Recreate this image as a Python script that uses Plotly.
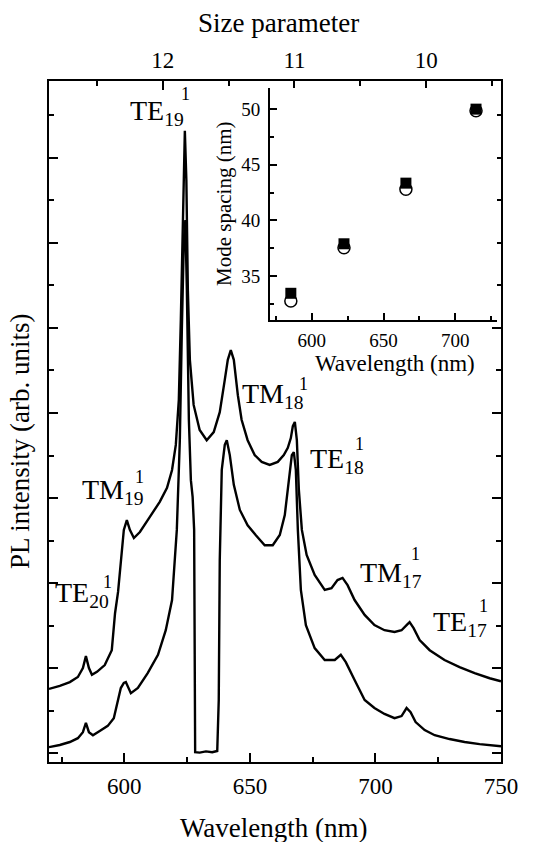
import plotly.graph_objects as go

# ---------------- data ----------------
upper_wl = [570.0, 574.3, 578.3, 581.5, 583.5, 584.7, 585.9, 587.1, 589.1, 592.2,
            595.0, 596.3, 597.5, 598.6, 599.8, 601.0, 602.2, 603.8, 606.2, 610.1,
            614.1, 617.0, 619.0, 620.5, 621.7, 622.5, 623.3, 624.1, 624.7, 625.3,
            626.1, 627.6, 630.0, 632.8, 635.6, 638.0, 640.0, 641.2, 642.4, 643.6,
            645.2, 646.7, 649.1, 651.9, 654.7, 657.9, 661.1, 663.5, 665.1, 666.3,
            667.1, 667.9, 668.7, 669.5, 670.7, 672.6, 675.8, 679.8, 682.5, 684.9,
            686.9, 688.9, 691.7, 695.7, 699.6, 703.6, 707.6, 710.4, 712.4, 713.6,
            715.2, 717.6, 721.6, 727.5, 733.5, 739.5, 745.5, 750.0]
upper_int = [1.51, 1.58, 1.67, 1.79, 2.00, 2.28, 2.00, 1.84, 1.91, 2.07,
             2.42, 3.29, 3.79, 4.54, 5.25, 5.48, 5.25, 5.06, 5.20, 5.55,
             5.91, 6.24, 6.66, 7.25, 8.31, 10.19, 12.54, 14.64, 13.48, 10.89,
             9.25, 8.19, 7.60, 7.36, 7.55, 8.02, 8.78, 9.25, 9.48, 9.25,
             8.42, 7.84, 7.36, 7.01, 6.85, 6.78, 6.85, 7.01, 7.18, 7.41,
             7.69, 7.79, 7.36, 6.19, 5.25, 4.66, 4.19, 3.84, 3.88, 4.07,
             4.12, 3.95, 3.60, 3.25, 3.01, 2.89, 2.85, 2.89, 3.01, 3.08,
             2.94, 2.66, 2.42, 2.19, 2.02, 1.88, 1.76, 1.69]

lower_wl = [570.0, 574.3, 578.3, 581.5, 583.5, 584.7, 585.9, 587.5, 590.2, 593.4,
            595.8, 597.5, 598.6, 599.8, 600.6, 602.6, 605.4, 609.3, 613.4, 616.5,
            619.0, 620.9, 622.1, 622.9, 623.7, 624.3, 624.9, 625.7, 626.5, 627.2,
            627.8, 628.2, 630.0, 632.5, 635.0, 637.0, 637.6, 638.0, 638.8, 640.0,
            640.8, 642.0, 643.6, 646.0, 649.1, 652.3, 655.9, 659.1, 661.9, 663.9,
            665.5, 666.7, 667.5, 668.3, 669.1, 670.3, 672.3, 675.8, 679.8, 683.8,
            686.2, 688.2, 691.7, 695.7, 699.6, 703.6, 707.6, 710.4, 712.4, 714.0,
            716.0, 719.6, 723.6, 729.5, 735.5, 741.5, 750.0]
lower_int = [0.14, 0.19, 0.26, 0.35, 0.49, 0.71, 0.49, 0.42, 0.52, 0.64,
             0.82, 1.25, 1.53, 1.65, 1.67, 1.41, 1.53, 1.88, 2.31, 2.89,
             3.60, 5.25, 7.36, 9.95, 12.07, 12.54, 10.89, 7.84, 6.42, 6.02,
             5.25, 0.02, 0.01, 0.04, 0.02, 0.05, 1.25, 4.54, 6.66, 7.25,
             7.36, 7.01, 6.31, 5.72, 5.36, 5.13, 4.89, 4.89, 5.13, 5.60,
             6.42, 7.01, 7.08, 6.66, 5.25, 3.84, 3.01, 2.47, 2.19, 2.19,
             2.31, 2.14, 1.72, 1.25, 1.06, 0.92, 0.82, 0.87, 1.06, 0.96,
             0.73, 0.54, 0.42, 0.33, 0.26, 0.21, 0.16]

# inset: mode spacing
inset_wl = [585.5, 622.5, 665.6, 714.4]
spacing_square = [33.45, 37.9, 43.35, 50.0]
spacing_circle = [32.75, 37.55, 42.8, 49.85]

# mode labels: base, subscript, superscript
label_base = ["TE", "TM", "TE", "TM", "TE", "TM", "TE"]
label_sub = ["19", "19", "20", "18", "18", "17", "17"]
label_sup = ["1", "1", "1", "1", "1", "1", "1"]
# left edge / vertical centre of the base text (data coords)
label_wl = [601.4, 582.3, 571.6, 645.9, 673.0, 692.9, 722.3]
label_int = [15.06, 6.16, 3.72, 8.40, 6.89, 4.21, 3.04]
# centre of the superscript (data coords)
sup_wl = [624.5, 606.2, 593.4, 671.2, 693.7, 715.9, 743.0]
sup_int = [15.50, 6.49, 4.02, 8.68, 7.27, 4.68, 3.46]

size_ticks = [12, 11, 10]

SERIF = "Liberation Serif, Times New Roman, serif"
BLACK = "black"

fig = go.Figure()

fig.add_trace(go.Scatter(x=upper_wl, y=upper_int, mode="lines",
                         line=dict(color=BLACK, width=2.4), showlegend=False,
                         hoverinfo="skip"))
fig.add_trace(go.Scatter(x=lower_wl, y=lower_int, mode="lines",
                         line=dict(color=BLACK, width=2.4), showlegend=False,
                         hoverinfo="skip"))
# dummy trace for the top (size parameter) axis
fig.add_trace(go.Scatter(x=[12.864, 9.432], y=[None, None], xaxis="x2", yaxis="y",
                         mode="lines", showlegend=False, hoverinfo="skip"))

# inset markers
fig.add_trace(go.Scatter(x=inset_wl, y=spacing_circle, mode="markers", xaxis="x3", yaxis="y3",
                         marker=dict(symbol="circle", size=12, color="white",
                                     line=dict(color=BLACK, width=1.5)),
                         showlegend=False, hoverinfo="skip"))
fig.add_trace(go.Scatter(x=inset_wl, y=spacing_square, mode="markers", xaxis="x3", yaxis="y3",
                         marker=dict(symbol="square", size=11, color=BLACK,
                                     line=dict(color=BLACK, width=0)),
                         showlegend=False, hoverinfo="skip"))

L, R, T, B = 49, 32, 81, 80
W, H = 533, 842
PW, PH = W - L - R, H - T - B

def px(xp):
    return (xp - L) / PW

def py(yp):
    return (H - B - yp) / PH

ax_common = dict(showline=True, linecolor=BLACK, linewidth=2, showgrid=False,
                 zeroline=False, ticks="inside", tickcolor=BLACK, tickwidth=2)

fig.update_layout(
    width=W, height=H,
    margin=dict(l=L, r=R, t=T, b=B),
    paper_bgcolor="white", plot_bgcolor="white",
    font=dict(family=SERIF, color=BLACK),
    xaxis=dict(**ax_common, range=[570, 750], tick0=0, dtick=50, ticklen=9,
               minor=dict(ticks="inside", dtick=25, tick0=0, ticklen=5,
                          tickcolor=BLACK, tickwidth=2),
               tickfont=dict(size=23, family=SERIF), mirror=False,
               ticklabelstandoff=2),
    yaxis=dict(**ax_common, range=[-0.21, 15.81], tick0=0, dtick=2, ticklen=9,
               minor=dict(ticks="inside", dtick=1, tick0=0, ticklen=5,
                          tickcolor=BLACK, tickwidth=2),
               showticklabels=False, mirror="ticks"),
    xaxis2=dict(**ax_common, overlaying="x", side="top", anchor="y",
                range=[12.864, 9.432], tickvals=size_ticks, ticklen=9,
                minor=dict(ticks="inside", dtick=0.5, tick0=0, ticklen=5,
                           tickcolor=BLACK, tickwidth=2),
                tickfont=dict(size=23, family=SERIF), ticklabelstandoff=2),
    xaxis3=dict(showline=True, linecolor=BLACK, linewidth=2, showgrid=False,
                zeroline=False, ticks="inside", tickcolor=BLACK, tickwidth=1.5,
                ticklen=7, domain=[px(270), px(497)], anchor="y3",
                range=[571, 729], tick0=0, dtick=50,
                minor=dict(ticks="inside", dtick=25, tick0=0, ticklen=4,
                           tickcolor=BLACK, tickwidth=1.5),
                tickfont=dict(size=19, family=SERIF), ticklabelstandoff=2),
    yaxis3=dict(showline=True, linecolor=BLACK, linewidth=2, showgrid=False,
                zeroline=False, ticks="inside", tickcolor=BLACK, tickwidth=1.5,
                ticklen=7, domain=[py(320), py(88)], anchor="x3",
                range=[31.05, 51.9], tick0=0, dtick=5,
                minor=dict(ticks="inside", dtick=2.5, tick0=0, ticklen=4,
                           tickcolor=BLACK, tickwidth=1.5),
                tickfont=dict(size=19, family=SERIF), ticklabelstandoff=4),
)

annots = []
# axis titles
annots.append(dict(text="Wavelength (nm)", xref="paper", yref="paper",
                   x=px(274), y=py(828), showarrow=False,
                   xanchor="center", yanchor="middle",
                   font=dict(size=27, family=SERIF, color=BLACK)))
annots.append(dict(text="PL intensity (arb. units)", xref="paper", yref="paper",
                   x=px(20), y=py(442), showarrow=False, textangle=-90,
                   xanchor="center", yanchor="middle",
                   font=dict(size=27, family=SERIF, color=BLACK)))
annots.append(dict(text="Size parameter", xref="paper", yref="paper",
                   x=px(278), y=py(23), showarrow=False,
                   xanchor="center", yanchor="middle",
                   font=dict(size=27, family=SERIF, color=BLACK)))
annots.append(dict(text="Wavelength (nm)", xref="paper", yref="paper",
                   x=px(395), y=py(363), showarrow=False,
                   xanchor="center", yanchor="middle",
                   font=dict(size=23, family=SERIF, color=BLACK)))
annots.append(dict(text="Mode spacing (nm)", xref="paper", yref="paper",
                   x=px(224), y=py(204), showarrow=False, textangle=-90,
                   xanchor="center", yanchor="middle",
                   font=dict(size=21, family=SERIF, color=BLACK)))

# mode labels
for base, sub, sup, wl, inten, swl, sint in zip(label_base, label_sub, label_sup,
                                                label_wl, label_int, sup_wl, sup_int):
    annots.append(dict(text=f"{base}<sub>{sub}</sub>", x=wl, y=inten,
                       xref="x", yref="y", showarrow=False,
                       xanchor="left", yanchor="middle",
                       font=dict(size=28, family=SERIF, color=BLACK)))
    annots.append(dict(text=sup, x=swl, y=sint,
                       xref="x", yref="y", showarrow=False,
                       xanchor="center", yanchor="middle",
                       font=dict(size=18, family=SERIF, color=BLACK)))

fig.update_layout(annotations=annots)

fig.write_html("out.html",
               config={"displayModeBar": False},
               post_script="document.body.style.margin='0px';"
                           "document.body.style.overflow='hidden';")
